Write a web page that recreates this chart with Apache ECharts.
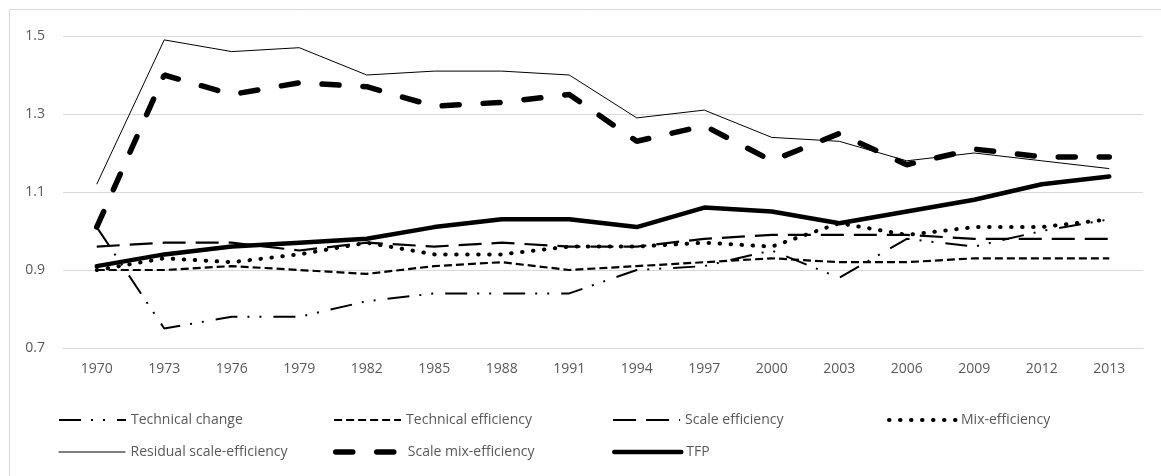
<!DOCTYPE html>
<html>
<head>
<meta charset="utf-8">
<script src="https://cdn.jsdelivr.net/npm/echarts@6/dist/echarts.min.js"></script>
<style>
  html, body { margin: 0; padding: 0; background: #fff; }
  #chart { width: 1161px; height: 476px; }
</style>
</head>
<body>
<div id="chart"></div>
<script>
// data
var years = ["1970", "1973", "1976", "1979", "1982", "1985", "1988", "1991",
  "1994", "1997", "2000", "2003", "2006", "2009", "2012", "2013"];
var techChange = [1.01, 0.75, 0.78, 0.78, 0.82, 0.84, 0.84, 0.84, 0.90, 0.91, 0.95, 0.88, 0.98, 0.96, 1.00, 1.03];
var techEff = [0.90, 0.90, 0.91, 0.90, 0.89, 0.91, 0.92, 0.90, 0.91, 0.92, 0.93, 0.92, 0.92, 0.93, 0.93, 0.93];
var scaleEff = [0.96, 0.97, 0.97, 0.95, 0.97, 0.96, 0.97, 0.96, 0.96, 0.98, 0.99, 0.99, 0.99, 0.98, 0.98, 0.98];
var mixEff = [0.90, 0.93, 0.92, 0.94, 0.97, 0.94, 0.94, 0.96, 0.96, 0.97, 0.96, 1.02, 0.99, 1.01, 1.01, 1.03];
var residualScale = [1.12, 1.49, 1.46, 1.47, 1.40, 1.41, 1.41, 1.40, 1.29, 1.31, 1.24, 1.23, 1.18, 1.20, 1.18, 1.16];
var scaleMix = [1.01, 1.40, 1.35, 1.38, 1.37, 1.32, 1.33, 1.35, 1.23, 1.27, 1.18, 1.25, 1.17, 1.21, 1.19, 1.19];
var tfp = [0.91, 0.94, 0.96, 0.97, 0.98, 1.01, 1.03, 1.03, 1.01, 1.06, 1.05, 1.02, 1.05, 1.08, 1.12, 1.14];

var font = "Open Sans";
var txtColor = "#595959";

function lineSeries(name, data, style) {
  return {
    name: name,
    type: "line",
    data: data,
    symbol: "none",
    smooth: false,
    animation: false,
    itemStyle: { color: "#000" },
    lineStyle: Object.assign({ color: "#000" }, style)
  };
}

function legendAt(name, left, top) {
  return {
    data: [name],
    left: left,
    top: top,
    padding: 0,
    itemWidth: 67,
    itemHeight: 14,
    itemGap: 0,
    // hide the round marker, keep the series line style
    itemStyle: { color: "rgba(0,0,0,0)", borderWidth: 0 },
    lineStyle: { width: "inherit", type: "inherit", color: "#000" },
    textStyle: { color: txtColor, fontFamily: font, fontSize: 14 }
  };
}

var myChart = echarts.init(document.getElementById("chart"));
myChart.setOption({
  backgroundColor: "#fff",
  grid: { left: 63, right: 18, top: 36, bottom: 128 },
  graphic: [{
    type: "rect",
    shape: { x: 9.5, y: 9.5, width: 1160, height: 480 },
    style: { fill: "none", stroke: "#d9d9d9", lineWidth: 1 },
    silent: true
  }],
  legend: [
    legendAt("Technical change", 58, 413),
    legendAt("Technical efficiency", 333, 413),
    legendAt("Scale efficiency", 612, 413),
    legendAt("Mix-efficiency", 887, 413),
    legendAt("Residual scale-efficiency", 58, 445),
    legendAt("Scale mix-efficiency", 333, 445),
    legendAt("TFP", 612, 445)
  ],
  xAxis: {
    type: "category",
    data: years,
    boundaryGap: true,
    axisLine: { show: true, lineStyle: { color: "#d9d9d9", width: 1 } },
    axisTick: { show: false },
    axisLabel: { color: txtColor, fontFamily: font, fontSize: 14, margin: 14, interval: 0 }
  },
  yAxis: {
    type: "value",
    min: 0.7,
    max: 1.5,
    interval: 0.2,
    axisLine: { show: false },
    axisTick: { show: false },
    splitLine: { lineStyle: { color: "#d9d9d9", width: 1 } },
    axisLabel: {
      color: txtColor, fontFamily: font, fontSize: 14, margin: 18,
      formatter: function (v) { return v.toFixed(1); }
    }
  },
  series: [
    lineSeries("Technical change", techChange, { width: 2, type: [22, 10, 2, 10, 2, 12] }),
    lineSeries("Technical efficiency", techEff, { width: 2.2, type: [8, 4] }),
    lineSeries("Scale efficiency", scaleEff, { width: 2.2, type: [23, 10] }),
    lineSeries("Mix-efficiency", mixEff, { width: 4, type: [0.5, 10.5], cap: "round" }),
    lineSeries("Residual scale-efficiency", residualScale, { width: 1 }),
    lineSeries("Scale mix-efficiency", scaleMix, { width: 5.5, type: [17, 24], cap: "round" }),
    lineSeries("TFP", tfp, { width: 4.5, cap: "round", join: "round" })
  ]
});
</script>
</body>
</html>
